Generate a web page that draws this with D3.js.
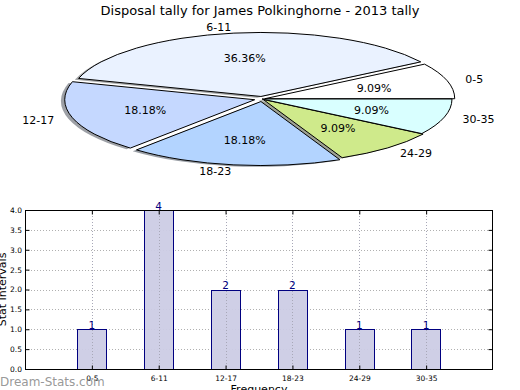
<!DOCTYPE html>
<html lang="en">
<head>
    <meta charset="UTF-8">
    <title>Disposal tally</title>
    <script src="https://d3js.org/d3.v7.min.js"></script>
    <style>
        body { margin: 0; background: #fff; }
        svg { display: block; font-family: "DejaVu Sans", sans-serif; }
        .grid line { stroke: #b0b0b0; stroke-width: 1; stroke-dasharray: 1,2; shape-rendering: crispEdges; }
    </style>
</head>
<body>
<div id="chart"></div>
<script>
    // Data
    var categories = ["0-5", "6-11", "12-17", "18-23", "24-29", "30-35"];
    var tally = [1, 4, 2, 2, 1, 1];
    var sliceColors = ["#ffffff", "#eaf2ff", "#c5d8ff", "#b3d4ff", "#cfea8b", "#d9ffff"];
    var explode = [0.015, 0.04, 0.04, 0.04, 0.01, 0];
    var yTicks = [0, 0.5, 1, 1.5, 2, 2.5, 3, 3.5, 4];

    var W = 520, H = 390;
    var svg = d3.select("#chart").append("svg")
        .attr("width", W)
        .attr("height", H);

    // Title
    svg.append("text")
        .attr("x", 260)
        .attr("y", 15)
        .attr("text-anchor", "middle")
        .style("font-size", "13px")
        .text("Disposal tally for James Polkinghorne - 2013 tally");

    // ---- Pie (squashed ellipse, counter-clockwise from 3 o'clock like matplotlib)
    var cx = 262, cy = 99, rx = 190, ry = 64;
    var k = ry / rx;
    var total = d3.sum(tally);

    var pie = d3.pie().sort(null).value(function (d) { return d; });
    var slices = pie(tally).map(function (d, i) {
        // treat d3 angles as math angles (ccw from +x)
        var mid = (d.startAngle + d.endAngle) / 2;
        return {
            i: i,
            a0: d.startAngle,
            a1: d.endAngle,
            mid: mid,
            dx: explode[i] * rx * Math.cos(mid),
            dy: -explode[i] * rx * Math.sin(mid),
            pct: d.value / total * 100
        };
    });

    var arc = d3.arc()
        .innerRadius(0)
        .outerRadius(rx)
        .startAngle(function (d) { return Math.PI / 2 - d.a1; })
        .endAngle(function (d) { return Math.PI / 2 - d.a0; });

    var pieG = svg.append("g")
        .attr("transform", "translate(" + cx + "," + cy + ") scale(1," + k + ")");

    // shadows first
    pieG.selectAll("path.shadow")
        .data(slices)
        .enter().append("path")
        .attr("class", "shadow")
        .attr("d", arc)
        .attr("transform", function (d) {
            return "translate(" + (d.dx - 0.02 * rx) + "," + (d.dy + 0.02 * rx) + ")";
        })
        .attr("fill", function (d) {
            var c = d3.rgb(sliceColors[d.i]);
            return d3.rgb(c.r * 0.3, c.g * 0.3, c.b * 0.3);
        })
        .attr("fill-opacity", 0.5);

    pieG.selectAll("path.wedge")
        .data(slices)
        .enter().append("path")
        .attr("class", "wedge")
        .attr("d", arc)
        .attr("transform", function (d) { return "translate(" + d.dx + "," + d.dy + ")"; })
        .attr("fill", function (d) { return sliceColors[d.i]; })
        .attr("stroke", "#000")
        .attr("stroke-width", 1)
        .attr("stroke-linejoin", "round")
        .attr("vector-effect", "non-scaling-stroke");

    // labels
    var fs = 11;
    svg.selectAll("text.plabel")
        .data(slices)
        .enter().append("text")
        .attr("class", "plabel")
        .attr("x", function (d) { return cx + d.dx + 1.1 * rx * Math.cos(d.mid); })
        .attr("y", function (d) { return cy + d.dy * k - 1.1 * ry * Math.sin(d.mid) + fs * 0.36; })
        .attr("text-anchor", function (d) { return Math.cos(d.mid) > 0 ? "start" : "end"; })
        .style("font-size", fs + "px")
        .text(function (d) { return categories[d.i]; });

    svg.selectAll("text.pct")
        .data(slices)
        .enter().append("text")
        .attr("class", "pct")
        .attr("x", function (d) { return cx + d.dx + 0.6 * rx * Math.cos(d.mid); })
        .attr("y", function (d) { return cy + d.dy * k - 0.6 * ry * Math.sin(d.mid) + fs * 0.36; })
        .attr("text-anchor", "middle")
        .style("font-size", fs + "px")
        .text(function (d) { return d.pct.toFixed(2) + "%"; });

    // ---- Bar chart
    var pLeft = 25, pRight = 493, pTop = 210, pBottom = 369;
    var x = d3.scaleLinear().domain([0, categories.length + 1]).range([pLeft, pRight]);
    var y = d3.scaleLinear().domain([0, 4]).range([pBottom, pTop]);
    var barW = 0.44;

    var bars = svg.append("g");

    // grid
    var grid = bars.append("g").attr("class", "grid");
    grid.selectAll("line.gy")
        .data(yTicks)
        .enter().append("line")
        .attr("x1", pLeft).attr("x2", pRight)
        .attr("y1", function (d) { return Math.round(y(d)) + 0.5; })
        .attr("y2", function (d) { return Math.round(y(d)) + 0.5; });
    grid.selectAll("line.gx")
        .data(categories)
        .enter().append("line")
        .attr("y1", pTop).attr("y2", pBottom)
        .attr("x1", function (d, i) { return Math.round(x(i + 1)) + 0.5; })
        .attr("x2", function (d, i) { return Math.round(x(i + 1)) + 0.5; });

    bars.selectAll("rect.bar")
        .data(tally)
        .enter().append("rect")
        .attr("class", "bar")
        .attr("x", function (d, i) { return Math.round(x(i + 1 - barW / 2)) + 0.5; })
        .attr("width", Math.round(x(barW) - x(0)))
        .attr("y", function (d) { return Math.round(y(d)) + 0.5; })
        .attr("height", function (d) { return pBottom - Math.round(y(d)); })
        .attr("fill", "#ccccE5")
        .attr("fill-opacity", 0.95)
        .attr("stroke", "#000080")
        .attr("stroke-width", 1);

    // vertical grid again over the bars, as in the original
    bars.selectAll("line.gx2")
        .data(categories)
        .enter().append("line")
        .attr("y1", pTop).attr("y2", pBottom)
        .attr("x1", function (d, i) { return Math.round(x(i + 1)) + 0.5; })
        .attr("x2", function (d, i) { return Math.round(x(i + 1)) + 0.5; })
        .attr("stroke", "#a8a8b8")
        .attr("stroke-dasharray", "1,2");

    bars.selectAll("text.val")
        .data(tally)
        .enter().append("text")
        .attr("class", "val")
        .attr("x", function (d, i) { return x(i + 1); })
        .attr("y", function (d) { return y(d) - 0.5; })
        .attr("text-anchor", "middle")
        .attr("fill", "#000080")
        .style("font-size", "10.5px")
        .text(function (d) { return d; });

    // frame
    bars.append("rect")
        .attr("x", pLeft + 0.5).attr("y", pTop + 0.5)
        .attr("width", pRight - pLeft - 1).attr("height", pBottom - pTop)
        .attr("fill", "none")
        .attr("stroke", "#000")
        .attr("stroke-width", 1);

    // axes (ticks inside, matplotlib classic)
    var yAxisL = d3.axisLeft(y).tickValues(yTicks).tickFormat(d3.format(".1f")).tickSizeInner(-4).tickSizeOuter(0).tickPadding(3.5);
    var gy = svg.append("g").attr("transform", "translate(" + (pLeft + 0.5) + ",0)").call(yAxisL);
    var yAxisR = d3.axisRight(y).tickValues(yTicks).tickFormat("").tickSizeInner(-4).tickSizeOuter(0);
    var gyr = svg.append("g").attr("transform", "translate(" + (pRight - 0.5) + ",0)").call(yAxisR);
    var xScaleTicks = categories.map(function (d, i) { return i + 1; });
    var xAxisB = d3.axisBottom(x).tickValues(xScaleTicks).tickFormat(function (d) { return categories[d - 1]; })
        .tickSizeInner(-4).tickSizeOuter(0).tickPadding(6);
    var gx = svg.append("g").attr("transform", "translate(0," + (pBottom + 0.5) + ")").call(xAxisB);
    var xAxisT = d3.axisTop(x).tickValues(xScaleTicks).tickFormat("").tickSizeInner(-4).tickSizeOuter(0);
    var gxt = svg.append("g").attr("transform", "translate(0," + (pTop + 0.5) + ")").call(xAxisT);

    [gy, gyr, gx, gxt].forEach(function (g) {
        g.select(".domain").remove();
        g.selectAll("text").style("font-size", "7.5px").style("font-family", "DejaVu Sans, sans-serif").attr("fill", "#000");
        g.selectAll("line").attr("stroke", "#000");
    });

    // axis labels
    svg.append("text")
        .attr("transform", "translate(6," + ((pTop + pBottom) / 2) + ") rotate(-90)")
        .attr("text-anchor", "middle")
        .style("font-size", "11px")
        .text("Stat Intervals");

    svg.append("text")
        .attr("x", (pLeft + pRight) / 2)
        .attr("y", 393)
        .attr("text-anchor", "middle")
        .style("font-size", "11px")
        .text("Frequency");

    // watermark
    svg.append("text")
        .attr("x", 0)
        .attr("y", 386)
        .attr("fill", "#8c8c8c")
        .attr("fill-opacity", 0.9)
        .style("font-size", "12px")
        .text("Dream-Stats.com");
</script>
</body>
</html>
